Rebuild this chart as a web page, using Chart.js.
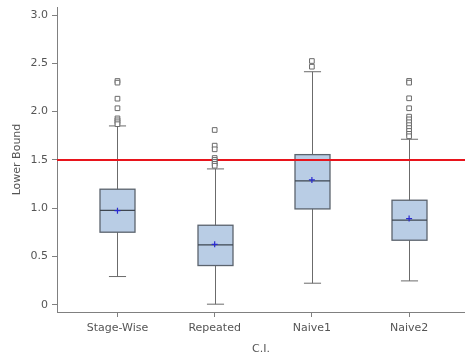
<!DOCTYPE html>
<html>
<head>
<meta charset="utf-8">
<script src="https://cdn.jsdelivr.net/npm/chart.js@4/dist/chart.umd.min.js"></script>
<style>
html,body{margin:0;padding:0;background:#fff;}
#wrap{width:465px;height:356px;}
</style>
</head>
<body>
<div id="wrap"><canvas id="c" width="465" height="356"></canvas></div>
<script>
const categories = ['Stage-Wise', 'Repeated', 'Naive1', 'Naive2'];
const q1 = [0.752, 0.407, 0.993, 0.669];
const medians = [0.978, 0.621, 1.283, 0.876];
const q3 = [1.197, 0.824, 1.555, 1.083];
const whiskerLow = [0.293, 0.007, 0.224, 0.248];
const whiskerHigh = [1.852, 1.407, 2.413, 1.714];
const means = [0.975, 0.627, 1.293, 0.893];
const outliers = [
  [2.317, 2.300, 2.134, 2.035, 1.93, 1.91, 1.89, 1.87],
  [1.81, 1.648, 1.61, 1.52, 1.50, 1.48, 1.46, 1.44],
  [2.524, 2.465],
  [2.318, 2.300, 2.138, 2.035, 1.948, 1.92, 1.89, 1.86, 1.83, 1.80, 1.77, 1.745]
];
const yTicks = [0, 0.5, 1.0, 1.5, 2.0, 2.5, 3.0];
const threshold = 1.5;
const xRange = [-0.622, 3.575];
const yRange = [-0.074, 3.083];

const outlierPts = [];
outliers.forEach((arr, i) => arr.forEach(v => outlierPts.push({x: i, y: v})));
const meanPts = means.map((v, i) => ({x: i, y: v}));

const boxPlugin = {
  id: 'boxes',
  beforeDatasetsDraw(chart) {
    const ctx = chart.ctx, xs = chart.scales.x, ys = chart.scales.y;
    const halfBox = (xs.getPixelForValue(0.18) - xs.getPixelForValue(0));
    const halfCap = (xs.getPixelForValue(0.088) - xs.getPixelForValue(0));
    ctx.save();
    categories.forEach((c, i) => {
      const cx = Math.round(xs.getPixelForValue(i)) + 0.5;
      const yLo = ys.getPixelForValue(whiskerLow[i]);
      const yHi = ys.getPixelForValue(whiskerHigh[i]);
      const y1 = ys.getPixelForValue(q1[i]);
      const y3 = ys.getPixelForValue(q3[i]);
      const ym = ys.getPixelForValue(medians[i]);
      ctx.strokeStyle = '#6b6b6b';
      ctx.lineWidth = 1;
      ctx.beginPath();
      ctx.moveTo(cx, yLo); ctx.lineTo(cx, yHi);
      ctx.moveTo(cx - halfCap, yLo); ctx.lineTo(cx + halfCap, yLo);
      ctx.moveTo(cx - halfCap, yHi); ctx.lineTo(cx + halfCap, yHi);
      ctx.stroke();
      ctx.fillStyle = '#b9cde5';
      ctx.fillRect(cx - halfBox, y3, halfBox * 2, y1 - y3);
      ctx.strokeStyle = '#5b636d';
      ctx.lineWidth = 1.3;
      ctx.strokeRect(cx - halfBox, y3, halfBox * 2, y1 - y3);
      ctx.strokeStyle = '#3e4650';
      ctx.beginPath();
      ctx.moveTo(cx - halfBox, ym); ctx.lineTo(cx + halfBox, ym);
      ctx.stroke();
    });
    ctx.restore();
  }
};

new Chart(document.getElementById('c'), {
  type: 'scatter',
  data: {
    datasets: [
      {
        label: 'outliers',
        data: outlierPts,
        pointStyle: 'rect',
        radius: 3.3,
        borderWidth: 1,
        borderColor: '#6a6a6a',
        backgroundColor: '#ffffff'
      },
      {
        label: 'mean',
        data: meanPts,
        pointStyle: 'cross',
        radius: 3,
        borderWidth: 1.2,
        borderColor: '#2a2ad0'
      },
      {
        label: 'threshold',
        type: 'line',
        data: [{x: xRange[0], y: threshold}, {x: xRange[1], y: threshold}],
        borderColor: '#e8141c',
        borderWidth: 2,
        pointRadius: 0,
        showLine: true
      }
    ]
  },
  options: {
    responsive: false,
    animation: false,
    layout: {autoPadding: false, padding: {top: 7, left: 0, right: 0, bottom: 0}},
    plugins: {legend: {display: false}, tooltip: {enabled: false}},
    scales: {
      x: {
        type: 'linear',
        min: xRange[0],
        max: xRange[1],
        afterBuildTicks: s => { s.ticks = categories.map((c, i) => ({value: i})); },
        afterFit: s => { s.height = 44; s.paddingLeft = 0; s.paddingRight = 0; },
        ticks: {
          callback: v => categories[v],
          color: '#555',
          font: {family: 'DejaVu Sans', size: 11},
          padding: 5,
          maxRotation: 0,
          autoSkip: false
        },
        grid: {drawOnChartArea: false, drawTicks: true, tickLength: 5, color: '#808080'},
        border: {color: '#808080'},
        title: {display: true, text: 'C.I.', color: '#555', font: {family: 'DejaVu Sans', size: 11}, padding: {top: 4, bottom: 0}}
      },
      y: {
        type: 'linear',
        min: yRange[0],
        max: yRange[1],
        afterBuildTicks: s => { s.ticks = yTicks.map(v => ({value: v})); },
        afterFit: s => { s.width = 57; s.paddingTop = 0; s.paddingBottom = 0; },
        ticks: {
          callback: v => v === 0 ? '0' : v.toFixed(1),
          color: '#555',
          font: {family: 'DejaVu Sans', size: 11},
          padding: 4
        },
        grid: {drawOnChartArea: false, drawTicks: true, tickLength: 5, color: '#808080'},
        border: {color: '#808080'},
        title: {display: true, text: 'Lower Bound', color: '#555', font: {family: 'DejaVu Sans', size: 11}, padding: {top: 11, bottom: 0}}
      }
    }
  },
  plugins: [boxPlugin]
});
</script>
</body>
</html>
